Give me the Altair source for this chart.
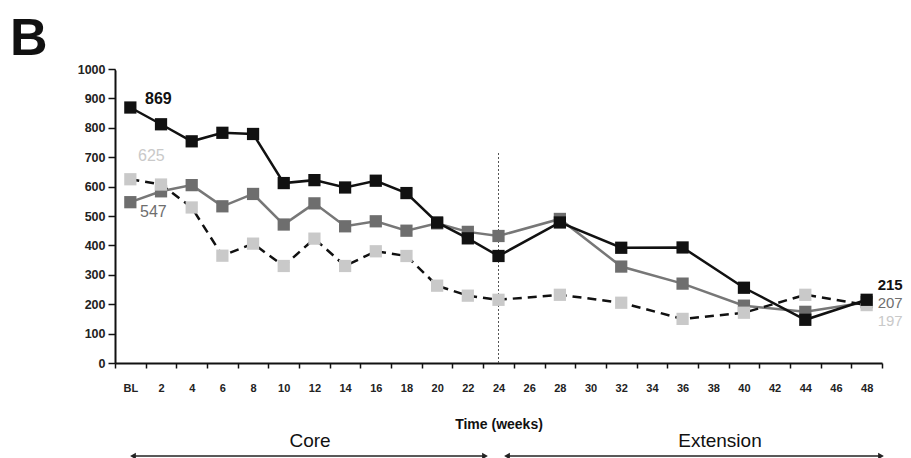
import altair as alt
import pandas as pd

# ---- data ----
all_weeks = ["BL"] + [str(w) for w in range(2, 50, 2)]
obs_weeks = ["BL", "2", "4", "6", "8", "10", "12", "14", "16", "18", "20", "22", "24",
             "28", "32", "36", "40", "44", "48"]
black_vals = [869, 812, 754, 783, 779, 612, 622, 597, 620, 578, 478, 424, 364,
              478, 392, 393, 256, 147, 215]
gray_vals = [547, 584, 605, 533, 575, 471, 543, 465, 482, 450, 475, 446, 432,
             490, 328, 270, 195, 174, 207]
light_vals = [625, 607, 529, 365, 406, 330, 423, 330, 380, 364, 263, 229, 215,
              232, 205, 150, 171, 232, 197]
y_ticks = list(range(0, 1001, 100))

FONT = "Liberation Sans"
BLACK = "#111111"
GRAY = "#6e6e6e"
LIGHT = "#c9c9c9"


def series_df(vals):
    return pd.DataFrame({"week": obs_weeks, "value": vals, "idx": list(range(len(vals)))})


df_black = series_df(black_vals)
df_gray = series_df(gray_vals)
df_light = series_df(light_vals)

xscale = alt.Scale(type="band", domain=all_weeks, paddingInner=0, paddingOuter=0)
yscale = alt.Scale(domain=[0, 1000], nice=False)

x_enc = alt.X("week:O", scale=xscale, sort=all_weeks,
              axis=alt.Axis(title="Time (weeks)", labelAngle=0, tickBand="extent",
                            labelFont=FONT, labelFontSize=11, labelFontWeight="bold",
                            labelColor="#222", labelPadding=14, tickSize=5,
                            tickColor="#111", tickWidth=1.5, domainColor="#111",
                            domainWidth=2, titleFont=FONT, titleFontSize=14,
                            titleFontWeight="bold", titleColor="#111",
                            titlePadding=24, grid=False))
y_enc = alt.Y("value:Q", scale=yscale,
              axis=alt.Axis(title=None, values=y_ticks, format="d", labelFont=FONT,
                            labelFontSize=12.5, labelFontWeight="bold",
                            labelColor="#222", labelPadding=3, tickSize=7,
                            tickColor="#111", tickWidth=1.5, domainColor="#111",
                            domainWidth=2, grid=False))


def line_layer(df, color, dash=None, width=2.5):
    kw = dict(color=color, strokeWidth=width)
    if dash:
        kw["strokeDash"] = dash
    return alt.Chart(df).mark_line(**kw).encode(x=x_enc, y=y_enc, order="idx:Q")


def point_layer(df, color):
    return alt.Chart(df).mark_square(color=color, opacity=1, size=150).encode(x=x_enc, y=y_enc)


# mask any light frame on the top and right of the plot area
mask_top = alt.Chart().mark_rule(color="white", strokeWidth=3).encode(
    x=alt.value(1), x2=alt.value(769), y=alt.value(0))
mask_right = alt.Chart().mark_rule(color="white", strokeWidth=3).encode(
    x=alt.value(767), y=alt.value(-1), y2=alt.value(291))

# vertical dotted separator at week 24
sep_df = pd.DataFrame({"week": ["24"], "value": [0], "top": [720]})
sep = alt.Chart(sep_df).mark_rule(color="#555", strokeDash=[2, 2], strokeWidth=1).encode(
    x=x_enc, y=y_enc, y2="top:Q")


# value labels at start and end
def label_layer(week, val, color, dx, dy, bold, align="center", size=16):
    d = pd.DataFrame({"week": [week], "value": [val], "txt": [str(val)]})
    return alt.Chart(d).mark_text(font=FONT, fontSize=size, color=color,
                                  fontWeight="bold" if bold else "normal",
                                  dx=dx, dy=dy, align=align, baseline="middle").encode(
        x=x_enc, y=y_enc, text="txt:N")


labels = [
    label_layer("BL", black_vals[0], BLACK, 28, -9, True),
    label_layer("BL", light_vals[0], LIGHT, 21, -23, False),
    label_layer("BL", gray_vals[0], GRAY, 23, 10, False),
    label_layer("48", black_vals[-1], BLACK, 11, -15, True, "left", 15),
    label_layer("48", gray_vals[-1], GRAY, 11, 1, False, "left", 15),
    label_layer("48", light_vals[-1], LIGHT, 11, 16, False, "left", 15),
]

# phase annotations below the axis (pixel positions inside the plot frame)
ann = []
for name, xc, x1, x2 in [("Core", 195, 18, 370), ("Extension", 605, 392, 766)]:
    ann.append(alt.Chart().mark_text(text=name, font=FONT, fontSize=19, color="#111",
                                     baseline="middle", align="center").encode(
        x=alt.value(xc), y=alt.value(372)))
    ann.append(alt.Chart().mark_rule(color="#222", strokeWidth=1.5).encode(
        x=alt.value(x1), x2=alt.value(x2), y=alt.value(387)))
    ann.append(alt.Chart().mark_point(shape="triangle-left", filled=True, color="#222",
                                      size=45, opacity=1).encode(
        x=alt.value(x1), y=alt.value(387)))
    ann.append(alt.Chart().mark_point(shape="triangle-right", filled=True, color="#222",
                                      size=45, opacity=1).encode(
        x=alt.value(x2), y=alt.value(387)))

panel = alt.Chart().mark_text(text="B", font=FONT, fontSize=52, fontWeight="bold",
                              color="#111", align="left", baseline="alphabetic").encode(
    x=alt.value(-105), y=alt.value(-14))

chart = alt.layer(
    mask_top, mask_right,
    sep,
    line_layer(df_gray, "#777777"),
    point_layer(df_gray, GRAY),
    line_layer(df_light, BLACK, dash=[9, 6]),
    point_layer(df_light, LIGHT),
    line_layer(df_black, BLACK),
    point_layer(df_black, BLACK),
    *labels,
    *ann, panel,
).properties(
    width=767, height=294,
    background="white",
    autosize=alt.AutoSizeParams(type="none"),
    padding={"left": 107, "top": 61, "right": 21, "bottom": 95},
).configure_view(stroke="transparent", strokeWidth=0)

chart.save("out.html", embed_options={"renderer": "svg", "actions": False})
